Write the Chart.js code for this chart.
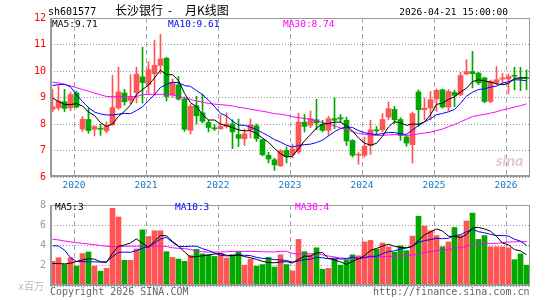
<!DOCTYPE html>
<html><head><meta charset="utf-8">
<script src="https://cdn.jsdelivr.net/npm/chart.js"></script>
<style>
html,body{margin:0;padding:0;background:#fff;}
#wrap{position:relative;width:545px;height:300px;overflow:hidden;background:#fff;}
canvas{position:absolute;left:0;}
.t{position:absolute;font-family:"DejaVu Sans Mono",monospace;font-size:9.5px;line-height:1;white-space:nowrap;}
.cjk{font-family:"Noto Sans CJK SC",sans-serif;}
</style></head><body>
<div id="wrap">
<canvas id="k" width="545" height="200" style="top:0;width:545px;height:200px"></canvas>
<canvas id="v" width="545" height="105" style="top:195px;width:545px;height:105px"></canvas>
<div class="t" style="left:48px;top:6.5px;font-size:10px;color:#000">sh601577</div>
<div class="t cjk" style="left:115px;top:4px;font-size:12px;color:#000">长沙银行</div>
<div class="t cjk" style="left:168px;top:4px;font-size:12px;color:#000">-</div>
<div class="t cjk" style="left:185px;top:4px;font-size:12px;color:#000">月K线图</div>
<div class="t" style="right:37px;top:7px;color:#000">2026-04-21 15:00:00</div>
<div class="t" style="left:52px;top:19px;color:#000">MA5:9.71</div>
<div class="t" style="left:168px;top:19px;color:#0000ff">MA10:9.61</div>
<div class="t" style="left:283px;top:19px;color:#ff00ff">MA30:8.74</div>
<div class="t" style="left:496px;top:152px;font-family:Lato,sans-serif;font-style:italic;font-weight:bold;font-size:16px;color:rgba(205,150,150,0.5)">sina</div>
<div class="t" style="left:55px;top:201.5px;color:#000">MA5:3</div>
<div class="t" style="left:175px;top:201.5px;color:#0000ff">MA10:3</div>
<div class="t" style="left:295px;top:202px;color:#ff00ff">MA30:4</div>
<div class="t" style="left:18px;top:281px;font-size:10px;color:#bbb"><span>x</span><span class="cjk">百万</span></div>
<div class="t" style="left:50px;top:286.5px;font-size:10px;color:#666">Copyright 2026 SINA.COM</div>
<div class="t" style="right:15.5px;top:286.5px;font-size:10px;color:#666">http://finance.sina.com.cn</div>
</div>
<script>
// ---------- data (monthly K line, 长沙银行 sh601577) ----------
const months = [
  '2019-09','2019-10','2019-11','2019-12',
  '2020-01','2020-02','2020-03','2020-04','2020-05','2020-06','2020-07','2020-08','2020-09','2020-10','2020-11','2020-12',
  '2021-01','2021-02','2021-03','2021-04','2021-05','2021-06','2021-07','2021-08','2021-09','2021-10','2021-11','2021-12',
  '2022-01','2022-02','2022-03','2022-04','2022-05','2022-06','2022-07','2022-08','2022-09','2022-10','2022-11','2022-12',
  '2023-01','2023-02','2023-03','2023-04','2023-05','2023-06','2023-07','2023-08','2023-09','2023-10','2023-11','2023-12',
  '2024-01','2024-02','2024-03','2024-04','2024-05','2024-06','2024-07','2024-08','2024-09','2024-10','2024-11','2024-12',
  '2025-01','2025-02','2025-03','2025-04','2025-05','2025-06','2025-07','2025-08','2025-09','2025-10','2025-11','2025-12',
  '2026-01','2026-02','2026-03','2026-04'];
const yearTicks = ['2020','2021','2022','2023','2024','2025','2026'];
const priceTicks = [6, 7, 8, 9, 10, 11, 12];
const volumeTicks = [0, 2, 4, 6, 8];

const open = [8.55,8.61,8.84,8.61,9.17,7.81,8.17,7.80,7.82,7.74,
  7.97,8.61,9.17,8.89,9.19,9.78,9.49,9.90,10.21,10.48,
  9.10,9.48,8.94,7.76,8.69,8.42,8.06,7.84,7.82,7.91,
  8.00,7.60,7.44,7.78,7.93,7.41,6.82,6.65,6.42,7.00,
  6.85,6.95,8.07,7.95,8.16,7.98,7.76,8.20,8.24,8.14,
  7.38,6.82,6.82,7.19,7.78,7.78,8.26,8.55,8.17,7.51,
  7.22,9.21,8.54,8.60,8.95,9.29,8.64,9.19,9.10,9.89,
  9.98,9.92,9.74,8.85,9.57,9.69,9.70,9.82,9.73,9.73];
const high = [9.31,9.46,9.31,9.20,9.24,8.28,8.61,7.94,7.99,8.08,
  9.84,10.15,9.31,9.86,10.15,10.90,10.35,11.16,11.38,10.52,
  9.70,9.79,9.02,8.74,9.05,9.13,8.15,7.98,8.35,8.42,
  8.16,8.18,7.81,8.19,8.00,7.43,6.93,6.71,7.03,7.13,
  7.25,8.41,8.36,8.49,8.93,8.14,8.29,8.99,8.36,8.26,
  7.41,6.92,7.51,8.14,7.91,8.39,8.83,8.66,8.24,7.57,
  8.45,9.29,8.98,9.23,9.32,9.32,9.30,9.28,9.95,10.43,
  10.74,9.95,9.77,9.66,10.17,9.91,9.89,10.14,10.14,10.04];
const low = [8.46,8.53,8.46,8.50,8.60,7.72,7.65,7.55,7.57,7.66,
  7.96,8.55,8.71,8.76,8.80,8.79,9.15,9.08,9.90,8.87,
  9.01,8.90,7.72,7.62,8.00,8.04,7.70,7.75,7.80,7.85,
  7.07,7.15,7.19,7.47,7.34,6.80,6.53,6.25,6.40,6.53,
  6.72,6.88,7.70,7.86,7.78,7.70,7.57,7.82,8.07,7.19,
  6.75,6.48,6.75,6.85,7.60,7.70,8.16,8.01,7.38,7.16,
  6.53,7.91,8.16,8.16,8.48,8.60,8.50,8.65,9.07,9.86,
  9.36,9.48,8.80,8.80,9.48,9.54,9.14,9.29,9.26,9.29];
const close = [8.65,8.86,8.59,9.11,8.64,8.18,7.75,7.90,7.80,7.92,
  8.62,9.21,8.84,9.01,9.88,9.56,10.05,10.21,10.46,9.04,
  9.57,8.94,7.80,8.67,8.31,8.10,7.87,7.82,7.91,8.00,
  7.70,7.46,7.63,7.97,7.45,6.84,6.68,6.46,6.99,6.78,
  7.05,8.07,7.91,8.20,8.04,7.76,8.20,8.14,8.19,7.36,
  6.82,6.86,7.16,7.78,7.74,8.17,8.58,8.16,7.57,7.28,
  8.39,8.54,8.60,8.92,9.27,8.64,9.23,9.08,9.83,9.98,
  9.90,9.55,8.85,9.61,9.67,9.74,9.79,9.80,9.70,9.71];

const ma5 = [8.98,8.85,8.74,8.73,8.77,8.68,8.45,8.32,8.05,7.91,
  8.00,8.29,8.48,8.72,9.11,9.30,9.47,9.74,10.03,9.86,
  9.86,9.64,9.16,8.80,8.66,8.36,8.15,8.15,8.00,7.94,
  7.86,7.78,7.74,7.75,7.64,7.47,7.31,7.08,6.88,6.75,
  6.79,7.07,7.36,7.60,7.85,8.00,8.02,8.07,8.07,7.93,
  7.74,7.47,7.28,7.20,7.27,7.54,7.89,8.09,8.04,7.95,
  8.00,7.99,8.08,8.35,8.74,8.79,8.93,9.03,9.21,9.35,
  9.60,9.67,9.62,9.58,9.52,9.48,9.53,9.72,9.74,9.75];
const ma10 = [9.45,9.49,9.50,9.40,9.10,8.85,8.62,8.45,8.38,8.34,
  8.34,8.37,8.40,8.39,8.51,8.65,8.88,9.11,9.38,9.49,
  9.58,9.56,9.45,9.42,9.26,9.11,8.90,8.66,8.40,8.30,
  8.11,7.96,7.95,7.88,7.79,7.67,7.55,7.41,7.32,7.20,
  7.13,7.19,7.22,7.24,7.30,7.39,7.55,7.71,7.83,7.89,
  7.87,7.75,7.67,7.63,7.60,7.64,7.68,7.68,7.62,7.61,
  7.77,7.94,8.08,8.20,8.35,8.40,8.46,8.55,8.78,9.05,
  9.20,9.30,9.33,9.39,9.43,9.54,9.60,9.67,9.66,9.63];
const ma30 = [9.58,9.55,9.50,9.44,9.37,9.30,9.24,9.17,9.10,9.04,
  9.03,9.03,9.03,9.03,9.04,9.10,9.12,9.12,9.12,9.12,
  9.10,9.05,8.98,8.93,8.87,8.82,8.78,8.75,8.73,8.71,
  8.68,8.63,8.60,8.56,8.52,8.48,8.44,8.39,8.37,8.33,
  8.28,8.24,8.21,8.18,8.12,8.06,8.00,7.93,7.85,7.80,
  7.70,7.64,7.61,7.58,7.57,7.57,7.59,7.60,7.59,7.57,
  7.59,7.63,7.66,7.69,7.75,7.81,7.90,7.98,8.08,8.18,
  8.28,8.33,8.36,8.41,8.46,8.53,8.58,8.64,8.69,8.76];

const volume = [2.44,2.79,2.12,2.79,1.96,3.20,3.36,1.96,1.46,1.74,
  7.68,6.82,2.54,2.54,3.65,5.55,4.89,5.46,5.46,3.39,
  2.82,2.66,2.44,3.01,3.62,3.17,3.08,2.92,3.24,2.76,
  3.08,3.39,2.06,2.66,1.96,2.12,2.82,1.87,3.08,2.12,
  1.49,4.60,3.39,3.08,3.77,1.65,1.74,2.66,2.06,2.60,
  3.08,2.98,4.35,4.50,3.65,4.25,3.87,3.33,3.97,3.49,
  4.92,6.89,5.93,5.46,4.98,3.87,4.35,5.78,4.98,6.41,
  7.20,4.60,4.98,3.87,3.87,3.87,3.77,2.60,3.17,2.06];
const volMa5 = [2.22,2.22,2.18,2.25,2.42,2.57,2.69,2.65,2.39,2.34,
  3.24,3.93,4.05,4.26,4.65,4.22,3.83,4.42,5.00,4.95,
  4.40,3.96,3.35,2.86,2.91,2.98,3.06,3.16,3.21,3.03,
  3.02,3.08,2.91,2.79,2.63,2.44,2.32,2.29,2.37,2.40,
  2.28,2.63,2.94,2.94,3.27,3.30,2.73,2.58,2.38,2.14,
  2.43,2.68,3.01,3.50,3.71,3.95,4.12,3.92,3.81,3.78,
  3.92,4.52,5.04,5.34,5.64,5.43,4.92,4.89,4.79,5.08,
  5.74,5.79,5.63,5.41,4.90,4.24,4.07,3.60,3.46,3.09];
const volMa10 = [3.98,3.95,3.55,2.80,2.42,2.40,2.40,2.38,2.36,2.38,
  2.91,3.31,3.35,3.33,3.50,3.73,3.88,4.23,4.63,4.80,
  4.31,3.90,3.89,3.93,3.93,3.69,3.51,3.26,3.04,2.97,
  3.00,3.07,3.03,3.00,2.83,2.73,2.70,2.60,2.58,2.52,
  2.36,2.48,2.61,2.65,2.83,2.79,2.68,2.76,2.66,2.70,
  2.86,2.70,2.80,2.94,2.93,3.19,3.40,3.47,3.66,3.75,
  3.93,4.32,4.48,4.58,4.71,4.67,4.72,4.96,5.07,5.36,
  5.59,5.36,5.26,5.10,4.99,4.99,4.93,4.62,4.43,4.00];
const volMa30 = [4.62,4.55,4.45,4.35,4.28,4.22,4.15,4.08,4.00,3.93,
  3.88,3.90,3.92,3.93,3.93,3.93,3.93,3.93,3.93,3.90,
  3.78,3.72,3.70,3.60,3.45,3.38,3.35,3.35,3.36,3.38,
  3.41,3.43,3.42,3.42,3.42,3.38,3.37,3.36,3.42,3.43,
  3.22,3.15,3.18,3.19,3.20,3.07,2.96,2.87,2.76,2.73,
  2.74,2.75,2.81,2.86,2.86,2.90,2.93,2.94,2.96,2.99,
  3.05,3.17,3.30,3.39,3.49,3.55,3.60,3.73,3.79,3.94,
  4.13,4.13,4.18,4.21,4.21,4.28,4.35,4.35,4.39,4.37];

// ---------- drawing ----------
const MONO = 'DejaVu Sans Mono';
const RED = '#ff5555', GREEN = '#00a800';
const SLOT = 5 / 12;                 // candle centre inside its month slot
const X = i => i + SLOT;
const colors = months.map((m, i) => close[i] >= open[i] ? RED : GREEN);
const yearPos = yearTicks.map(y => months.indexOf(y + '-01'));

// dotted stroke for horizontal grid lines (1px dot, 2px gap)
function dotPattern(canvasId) {
  const c = document.createElement('canvas');
  c.width = 3; c.height = 1;
  const g = c.getContext('2d');
  g.fillStyle = '#999'; g.fillRect(0, 0, 1, 1);
  return document.getElementById(canvasId).getContext('2d').createPattern(c, 'repeat');
}

const frame = {
  id: 'frame',
  afterDatasetsDraw(c) {
    const a = c.chartArea, ctx = c.ctx;
    ctx.save();
    ctx.strokeStyle = '#999'; ctx.lineWidth = 1;
    ctx.strokeRect(a.left + 0.5, a.top + 0.5, a.right - a.left - 1, a.bottom - a.top - 1);
    ctx.fillStyle = '#999';
    ctx.fillRect(a.left, a.top, 2, a.bottom - a.top);
    ctx.fillRect(a.left, a.bottom - 2, a.right - a.left, 2);
    ctx.restore();
  }
};

function xScale(showLabels) {
  return {
    type: 'linear', min: 0, max: months.length, offset: false,
    afterBuildTicks: s => { s.ticks = yearPos.map(v => ({ value: v })); },
    ticks: { display: showLabels, autoSkip: false, maxRotation: 0, padding: 3,
      color: '#1278c8', font: { family: MONO, size: 9.5 },
      callback: (v, i) => yearTicks[i] },
    grid: { color: '#a8a8a8', lineWidth: 1, drawTicks: false, offset: false },
    border: { display: false, dash: [5, 3] },
    afterFit: s => { s.height = showLabels ? 23 : 0; }
  };
}
function yScale(tickVals, labelColor, hideZero, gridColor) {
  return {
    type: 'linear', min: tickVals[0], max: tickVals[tickVals.length - 1],
    afterBuildTicks: s => { s.ticks = tickVals.map(v => ({ value: v })); },
    ticks: { autoSkip: false, color: labelColor, padding: 4, font: { family: MONO, size: 10 },
      callback: v => (hideZero && v === 0) ? '' : String(v) },
    grid: { display: true, drawOnChartArea: true, color: gridColor, lineWidth: 1, drawTicks: false },
    border: { display: false },
    afterFit: s => { s.width = 50; }
  };
}
const lineDs = (arr, col) => ({ type: 'line', data: arr.map((v, i) => ({ x: X(i), y: v })),
  borderColor: col, borderWidth: 1, pointRadius: 0, tension: 0, order: 0 });
const baseOpts = { responsive: false, animation: false, devicePixelRatio: 1, events: [],
  plugins: { legend: { display: false }, tooltip: { enabled: false } } };

new Chart(document.getElementById('k'), {
  type: 'bar',
  data: { datasets: [
    lineDs(ma5, '#000000'), lineDs(ma10, '#0000ff'), lineDs(ma30, '#ff00ff'),
    { type: 'bar', data: open.map((o, i) => ({ x: X(i), y: [o, close[i]] })),
      backgroundColor: colors, barThickness: 5, grouped: false, minBarLength: 1,
      borderWidth: 0, order: 1 },
    { type: 'bar', data: low.map((l, i) => ({ x: X(i), y: [l, high[i]] })),
      backgroundColor: colors, barThickness: 1, grouped: false, borderWidth: 0, order: 2 }
  ]},
  options: Object.assign({}, baseOpts, {
    layout: { padding: { top: 18, right: 15, left: 0, bottom: 0 } },
    scales: { x: xScale(true), y: yScale(priceTicks, '#ff0000', false, dotPattern('k')) }
  }),
  plugins: [frame]
});

new Chart(document.getElementById('v'), {
  type: 'bar',
  data: { datasets: [
    lineDs(volMa5, '#000000'), lineDs(volMa10, '#0000ff'), lineDs(volMa30, '#ff00ff'),
    { type: 'bar', data: volume.map((v, i) => ({ x: X(i), y: v })),
      backgroundColor: colors, barThickness: 5, grouped: false, borderWidth: 0, order: 1 }
  ]},
  options: Object.assign({}, baseOpts, {
    layout: { padding: { top: 6, right: 15, left: 0, bottom: 14 } },
    scales: { x: xScale(false), y: yScale(volumeTicks, '#999', true, dotPattern('v')) }
  }),
  plugins: [frame]
});
</script>
</body></html>
